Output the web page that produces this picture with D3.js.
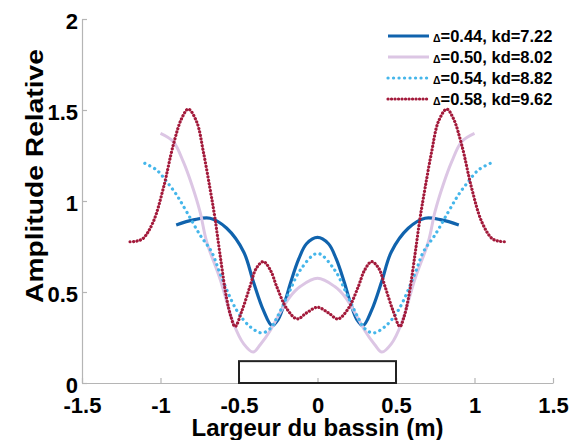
<!DOCTYPE html>
<html>
<head>
<meta charset="utf-8">
<script src="https://cdn.jsdelivr.net/npm/d3@7"></script>
<style>
  html, body { margin: 0; padding: 0; background: #fff; }
  svg { display: block; font-family: "Liberation Sans", Arial, sans-serif; }
</style>
</head>
<body>
<svg id="chart" width="581" height="440"></svg>
<script>
// ---- data ----
const seriesNames = ["=0.44, kd=7.22", "=0.50, kd=8.02", "=0.54, kd=8.82", "=0.58, kd=9.62"];

const x044 = [-0.9,-0.79,-0.685,-0.578,-0.47,-0.41,-0.345,-0.29,-0.25,-0.21,-0.17,-0.12,-0.07,0,0.07,0.12,0.17,0.21,0.25,0.29,0.345,0.41,0.47,0.578,0.685,0.79,0.9];
const y044 = [0.868,0.896,0.905,0.85,0.72,0.56,0.40,0.315,0.35,0.44,0.555,0.68,0.765,0.80,0.765,0.68,0.555,0.44,0.35,0.315,0.40,0.56,0.72,0.85,0.905,0.896,0.868];

const x050 = [-1.0,-0.918,-0.855,-0.80,-0.748,-0.706,-0.62,-0.536,-0.47,-0.41,-0.365,-0.30,-0.24,-0.175,-0.11,0,0.11,0.175,0.24,0.30,0.365,0.41,0.47,0.536,0.62,0.706,0.748,0.80,0.855,0.918,1.0];
const y050 = [1.372,1.326,1.216,1.088,0.94,0.776,0.57,0.33,0.215,0.17,0.21,0.29,0.385,0.474,0.53,0.575,0.53,0.474,0.385,0.29,0.21,0.17,0.215,0.33,0.57,0.776,0.94,1.088,1.216,1.326,1.372];

const x054 = [-1.1,-1.024,-0.96,-0.897,-0.833,-0.748,-0.674,-0.62,-0.515,-0.43,-0.355,-0.30,-0.26,-0.218,-0.175,-0.11,0,0.11,0.175,0.218,0.26,0.30,0.355,0.43,0.515,0.62,0.674,0.748,0.833,0.897,0.96,1.024,1.1];
const y054 = [1.207,1.17,1.106,1.033,0.94,0.813,0.72,0.60,0.40,0.31,0.275,0.30,0.357,0.43,0.51,0.62,0.712,0.62,0.51,0.43,0.357,0.30,0.275,0.31,0.40,0.60,0.72,0.813,0.94,1.033,1.106,1.17,1.207];

const x058 = [-1.194,-1.15,-1.11,-1.046,-0.982,-0.918,-0.865,-0.823,-0.77,-0.727,-0.685,-0.653,-0.62,-0.58,-0.55,-0.525,-0.48,-0.43,-0.39,-0.345,-0.30,-0.26,-0.197,-0.13,-0.07,0,0.07,0.13,0.197,0.26,0.30,0.345,0.39,0.43,0.48,0.525,0.55,0.58,0.62,0.653,0.685,0.727,0.77,0.823,0.865,0.918,0.982,1.046,1.11,1.15,1.194];
const y058 = [0.776,0.78,0.795,0.886,1.07,1.31,1.454,1.505,1.436,1.27,1.07,0.905,0.70,0.47,0.36,0.31,0.40,0.53,0.63,0.667,0.62,0.53,0.41,0.352,0.385,0.416,0.385,0.352,0.41,0.53,0.62,0.667,0.63,0.53,0.40,0.31,0.36,0.47,0.70,0.905,1.07,1.27,1.436,1.505,1.454,1.31,1.07,0.886,0.795,0.78,0.776];

const basinX = [-0.5, 0.5];
const basinH = 0.12;

const xTicks = [-1.5, -1, -0.5, 0, 0.5, 1, 1.5];
const yTicks = [0, 0.5, 1, 1.5, 2];

// ---- layout ----
const svg = d3.select("#chart");
const x = d3.scaleLinear().domain([-1.5, 1.5]).range([82, 553]);
const y = d3.scaleLinear().domain([0, 2]).range([383, 19]);

const series = [
  {name: seriesNames[0], xs: x044, ys: y044, color: "#1063ad", width: 3.2, dash: null, cap: "butt"},
  {name: seriesNames[1], xs: x050, ys: y050, color: "#dcc6e4", width: 3, dash: null, cap: "butt"},
  {name: seriesNames[2], xs: x054, ys: y054, color: "#45b6ea", width: 3.2, dash: "0.1,5.4", cap: "round"},
  {name: seriesNames[3], xs: x058, ys: y058, color: "#a31a3b", width: 3.2, dash: "0.1,3.4", cap: "round"}
];

const fmt = d => String(d);

// axes
const gx = svg.append("g").attr("transform", `translate(0,${y(0)})`)
  .call(d3.axisBottom(x).tickValues(xTicks).tickFormat(fmt).tickSizeInner(-5).tickSizeOuter(0));
const gy = svg.append("g").attr("transform", `translate(${x(-1.5)},0)`)
  .call(d3.axisLeft(y).tickValues(yTicks).tickFormat(fmt).tickSizeInner(-5).tickSizeOuter(0));

[gx, gy].forEach(g => {
  g.select(".domain").attr("stroke", "#b5b5b5").attr("stroke-width", 1.2);
  g.selectAll(".tick line").attr("stroke", "#b5b5b5").attr("stroke-width", 1.2);
  g.selectAll(".tick text").attr("fill", "#000").attr("font-size", 22).attr("font-weight", "bold")
    .attr("font-family", "'Liberation Sans', Arial, sans-serif");
});
gx.selectAll(".tick text").attr("y", 29.5).attr("dy", "0");
gy.selectAll(".tick text").attr("x", -4).attr("dy", "0.42em");

// basin rectangle
svg.append("rect")
  .attr("x", x(basinX[0])).attr("y", y(basinH))
  .attr("width", x(basinX[1]) - x(basinX[0]))
  .attr("height", y(0) - y(basinH))
  .attr("fill", "none").attr("stroke", "#222").attr("stroke-width", 2);

// curves
const line = d3.line().x(d => x(d[0])).y(d => y(d[1])).curve(d3.curveCatmullRom.alpha(0.5));
series.forEach(s => {
  const pts = s.xs.map((v, i) => [v, s.ys[i]]);
  svg.append("path").datum(pts)
    .attr("d", line)
    .attr("fill", "none")
    .attr("stroke", s.color)
    .attr("stroke-width", s.width)
    .attr("stroke-linecap", s.cap)
    .attr("stroke-dasharray", s.dash);
});

// legend
const lg = svg.append("g");
series.forEach((s, i) => {
  const ly = 36 + i * 21;
  lg.append("line").attr("x1", 388).attr("x2", 429).attr("y1", ly).attr("y2", ly)
    .attr("stroke", s.color).attr("stroke-width", s.width)
    .attr("stroke-linecap", s.cap).attr("stroke-dasharray", s.dash);
  const t = lg.append("text").attr("x", 433).attr("y", ly + 6)
    .attr("font-size", 16.5).attr("font-weight", "bold").attr("fill", "#000");
  t.append("tspan").attr("font-size", 10.5).text("\u0394");
  t.append("tspan").text(s.name);
});

// axis titles
svg.append("text").attr("x", 317.5).attr("y", 436).attr("text-anchor", "middle")
  .attr("font-size", 24).attr("font-weight", "bold").text("Largeur du bassin (m)");
svg.append("text").attr("transform", "translate(43,176) rotate(-90)").attr("text-anchor", "middle")
  .attr("font-size", 24.5).attr("font-weight", "bold")
  .attr("textLength", 254).attr("lengthAdjust", "spacingAndGlyphs")
  .text("Amplitude Relative");
</script>
</body>
</html>
